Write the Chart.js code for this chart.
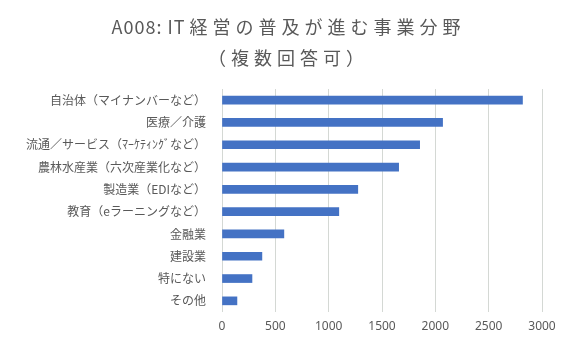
<!DOCTYPE html>
<html>
<head>
<meta charset="utf-8">
<script src="https://cdn.jsdelivr.net/npm/chart.js@4"></script>
<style>
  html, body { margin: 0; padding: 0; background: #fff; }
  #wrap { width: 572px; height: 349px; }
</style>
</head>
<body>
<div id="wrap"><canvas id="dataChart" width="572" height="349"></canvas></div>
<script>
// A008: IT経営の普及が進む事業分野
const categories = [
  '自治体（マイナンバーなど）',
  '医療／介護',
  '流通／サービス（ﾏｰｹﾃｨﾝｸﾞなど）',
  '農林水産業（六次産業化など）',
  '製造業（EDIなど）',
  '教育（eラーニングなど）',
  '金融業',
  '建設業',
  '特にない',
  'その他'
];
const counts = [2817, 2068, 1853, 1656, 1273, 1095, 580, 374, 281, 140];
const xTicks = [0, 500, 1000, 1500, 2000, 2500, 3000];
// each title line is split into [latin part, wide part] so the wide glyphs can be spaced out
const titleLines = [
  ['A008: IT', '経営の普及が進む事業分野'],
  ['', '（複数回答可）']
];

const jpFont = '"Noto Sans CJK JP", "Noto Sans", sans-serif';
const grey = '#595959';

// spaced-out title, like the original
const spacedTitle = {
  id: 'spacedTitle',
  afterDraw(c) {
    const g = c.ctx;
    const ys = [27, 58];
    const wide = 5;
    g.save();
    g.fillStyle = grey;
    g.font = '18px ' + jpFont;
    g.textBaseline = 'middle';
    g.textAlign = 'left';
    titleLines.forEach((parts, i) => {
      g.letterSpacing = '1px';
      const w1 = parts[0] ? g.measureText(parts[0]).width + 4 : 0;
      g.letterSpacing = wide + 'px';
      const w2 = g.measureText(parts[1]).width - wide;
      let x = c.width / 2 - (w1 + w2) / 2;
      if (parts[0]) {
        g.letterSpacing = '1px';
        g.fillText(parts[0], x, ys[i]);
        x += w1;
      }
      g.letterSpacing = wide + 'px';
      g.fillText(parts[1], x, ys[i]);
    });
    g.restore();
  }
};

const ctx = document.getElementById('dataChart').getContext('2d');
const chart = new Chart(ctx, {
  type: 'bar',
  data: {
    labels: categories,
    datasets: [{
      data: counts,
      backgroundColor: '#4472C4',
      borderWidth: 0,
      barThickness: 8
    }]
  },
  options: {
    indexAxis: 'y',
    responsive: false,
    animation: false,
    layout: { padding: { top: 89, right: 30, bottom: 0, left: 0 } },
    plugins: {
      legend: { display: false },
      tooltip: { enabled: false },
      title: { display: false }
    },
    scales: {
      x: {
        min: 0,
        max: 3000,
        afterBuildTicks: scale => { scale.ticks = xTicks.map(v => ({ value: v })); },
        afterFit: scale => { scale.height = 37; },
        ticks: {
          color: grey,
          padding: 7,
          font: { family: '"Noto Sans", sans-serif', size: 12 },
          callback: value => String(value)
        },
        grid: { color: '#d4d8d4', drawTicks: false },
        border: { display: false }
      },
      y: {
        afterFit: scale => { scale.width = 222; },
        ticks: { color: grey, padding: 16, font: { family: jpFont, size: 12 } },
        grid: { display: false, drawTicks: false },
        border: { display: false }
      }
    }
  },
  plugins: [spacedTitle]
});
</script>
</body>
</html>
